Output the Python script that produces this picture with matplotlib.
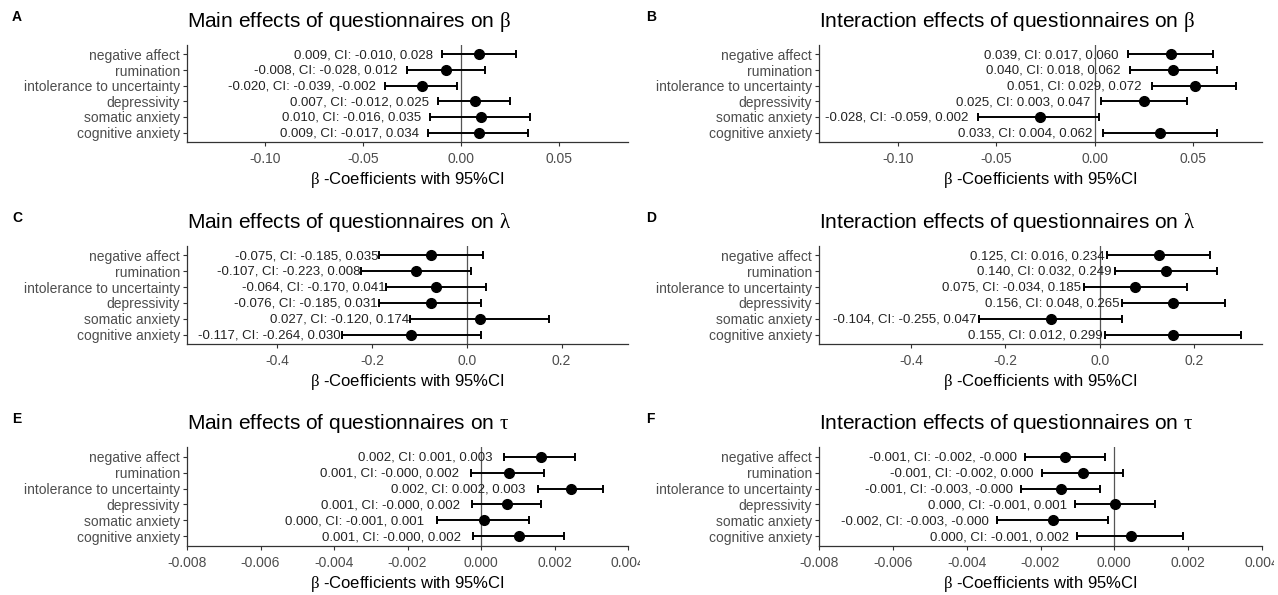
import matplotlib.pyplot as plt
from matplotlib.transforms import Bbox, TransformedBbox

plt.rcParams['font.family'] = ['Liberation Sans', 'DejaVu Sans']
plt.rcParams['mathtext.fontset'] = 'custom'
plt.rcParams['mathtext.rm'] = 'Liberation Serif'
plt.rcParams['mathtext.it'] = 'Liberation Serif'

questionnaires = ['negative affect', 'rumination', 'intolerance to uncertainty',
                  'depressivity', 'somatic anxiety', 'cognitive anxiety']

# A: main effects on beta
beta_main_est = [0.009, -0.008, -0.020, 0.007, 0.010, 0.009]
beta_main_lo = [-0.010, -0.028, -0.039, -0.012, -0.016, -0.017]
beta_main_hi = [0.028, 0.012, -0.002, 0.025, 0.035, 0.034]

# B: interaction effects on beta
beta_int_est = [0.039, 0.040, 0.051, 0.025, -0.028, 0.033]
beta_int_lo = [0.017, 0.018, 0.029, 0.003, -0.059, 0.004]
beta_int_hi = [0.060, 0.062, 0.072, 0.047, 0.002, 0.062]

# C: main effects on lambda
lambda_main_est = [-0.075, -0.107, -0.064, -0.076, 0.027, -0.117]
lambda_main_lo = [-0.185, -0.223, -0.170, -0.185, -0.120, -0.264]
lambda_main_hi = [0.035, 0.008, 0.041, 0.031, 0.174, 0.030]

# D: interaction effects on lambda
lambda_int_est = [0.125, 0.140, 0.075, 0.156, -0.104, 0.155]
lambda_int_lo = [0.016, 0.032, -0.034, 0.048, -0.255, 0.012]
lambda_int_hi = [0.234, 0.249, 0.185, 0.265, 0.047, 0.299]

# E: main effects on tau
tau_main_est = [0.00163, 0.00075, 0.00245, 0.00070, 0.00008, 0.00104]
tau_main_lo = [0.00063, -0.00027, 0.00154, -0.00025, -0.00121, -0.00023]
tau_main_hi = [0.00256, 0.00172, 0.00332, 0.00163, 0.00131, 0.00226]

# F: interaction effects on tau
tau_int_est = [-0.00134, -0.00085, -0.00145, 0.00001, -0.00165, 0.00045]
tau_int_lo = [-0.00243, -0.00196, -0.00252, -0.00106, -0.00317, -0.00102]
tau_int_hi = [-0.00026, 0.00023, -0.00038, 0.00109, -0.00016, 0.00185]

panels = [
    ('A', 'Main effects of questionnaires on $\\beta$', beta_main_est, beta_main_lo, beta_main_hi,
     (-0.14, 0.085), [-0.10, -0.05, 0.0, 0.05], '{:.2f}', 9),
    ('B', 'Interaction effects of questionnaires on $\\beta$', beta_int_est, beta_int_lo, beta_int_hi,
     (-0.14, 0.085), [-0.10, -0.05, 0.0, 0.05], '{:.2f}', 10),
    ('C', 'Main effects of questionnaires on $\\lambda$', lambda_main_est, lambda_main_lo, lambda_main_hi,
     (-0.59, 0.34), [-0.4, -0.2, 0.0, 0.2], '{:.1f}', 1),
    ('D', 'Interaction effects of questionnaires on $\\lambda$', lambda_int_est, lambda_int_lo, lambda_int_hi,
     (-0.595, 0.344), [-0.4, -0.2, 0.0, 0.2], '{:.1f}', 3),
    ('E', 'Main effects of questionnaires on $\\tau$', tau_main_est, tau_main_lo, tau_main_hi,
     (-0.008, 0.004), [-0.008, -0.006, -0.004, -0.002, 0.0, 0.002, 0.004], '{:.3f}', 12),
    ('F', 'Interaction effects of questionnaires on $\\tau$', tau_int_est, tau_int_lo, tau_int_hi,
     (-0.008, 0.004), [-0.008, -0.006, -0.004, -0.002, 0.0, 0.002, 0.004], '{:.3f}', 8),
]

W, H = 1278, 595
fig = plt.figure(figsize=(W / 100, H / 100), dpi=100)

col_x = [(187, 628), (819, 1262)]
col_clip = [640, 1274]
row_y = [(45, 142), (246, 344), (447, 546)]

ypos = list(range(len(questionnaires), 0, -1))

for i, (letter, title, est, lo, hi, xlim, ticks, fmt, off) in enumerate(panels):
    r, c = divmod(i, 2)
    x0, x1 = col_x[c]
    y0, y1 = row_y[r]
    ax = fig.add_axes([x0 / W, 1 - y1 / H, (x1 - x0) / W, (y1 - y0) / H])

    ax.axvline(0, color='#555555', lw=0.9, zorder=1)
    xerr = [[e - l for e, l in zip(est, lo)], [h - e for e, h in zip(est, hi)]]
    ax.errorbar(est, ypos, xerr=xerr, fmt='o', color='black', ms=7, elinewidth=1.4,
                capsize=2.8, capthick=1.4, zorder=3)
    for e, l, h, y in zip(est, lo, hi, ypos):
        ax.annotate(f'{e:.3f}, CI: {l:.3f}, {h:.3f}', xy=(l, y), xytext=(-off * 0.72, -0.5),
                    textcoords='offset points', ha='right', va='center',
                    fontsize=9.5, color='#222222', zorder=2)

    ax.set_xlim(*xlim)
    ax.set_ylim(0.4, len(questionnaires) + 0.6)
    ax.set_yticks(ypos)
    ax.set_yticklabels(questionnaires)
    ax.set_xticks(ticks)
    ax.set_xticklabels([fmt.format(t) for t in ticks])
    ax.tick_params(axis='both', colors='#333333', labelcolor='#4d4d4d', labelsize=10,
                   length=3, width=0.8, pad=2)
    ax.tick_params(axis='x', pad=4)
    for side in ['top', 'right']:
        ax.spines[side].set_visible(False)
    for side in ['left', 'bottom']:
        ax.spines[side].set_color('#333333')
        ax.spines[side].set_linewidth(0.9)
    ax.set_xlabel('$\\beta$ -Coefficients with 95%CI', fontsize=12, labelpad=3)

    clip = TransformedBbox(Bbox([[0, 0], [col_clip[c] / W, 1]]), fig.transFigure)
    for lab in ax.get_xticklabels():
        lab.set_clip_on(True)
        lab.set_clip_box(clip)

    fig.text(x0 / W, 1 - (y0 - 18) / H, title, fontsize=15, ha='left', va='baseline')
    fig.text((12 if c == 0 else 646) / W, 1 - (21 + 201 * r) / H, letter,
             fontsize=10, fontweight='bold', ha='left', va='baseline')

fig.savefig('out.png', dpi=100)
